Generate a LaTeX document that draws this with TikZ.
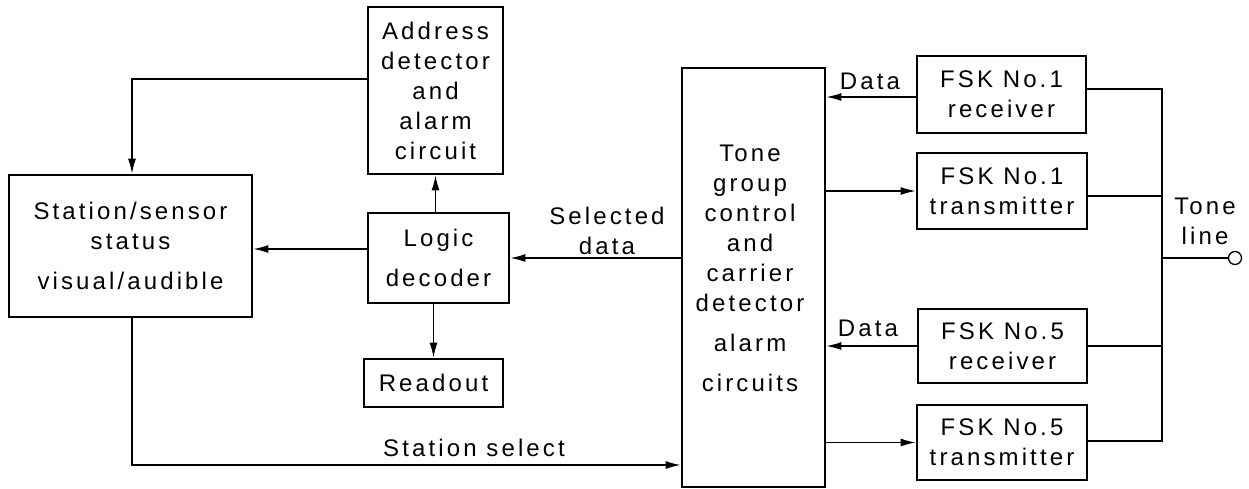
\documentclass[tikz,border=0pt]{standalone}
\usepackage{fontspec}
\setmainfont[LetterSpace=13]{Liberation Sans}
\usetikzlibrary{arrows.meta}
\begin{document}
\begin{tikzpicture}[x=1pt,y=-1pt,
  box/.style={draw,line width=2.8pt,rectangle,inner sep=0pt,align=center},
  lbl/.style={align=center,inner sep=0pt},
  conn/.style={line width=1.3pt},
  arr/.style={conn,-{Latex[length=15pt,width=8pt]}},
  every node/.style={font=\fontsize{24}{30}\selectfont}]
\useasboundingbox (0,0) rectangle (1249,488);
\node[box,minimum width=243pt,minimum height=142pt] (station) at (130.5,246) {Station/sensor\\status\\[10pt]visual/audible};
\node[box,minimum width=135pt,minimum height=167pt] (addr) at (435.5,90.5) {Address\\detector\\and\\alarm\\circuit};
\node[box,minimum width=141pt,minimum height=90pt] (logic) at (438.5,258) {Logic\\[10pt]decoder};
\node[box,minimum width=139pt,minimum height=48pt] (readout) at (433.5,383) {Readout};
\node[box,minimum width=143pt,minimum height=419pt] (tone) at (753.5,277.5) {};
\node[lbl] (tonetxt) at (750,268) {Tone\\group\\control\\and\\carrier\\detector\\[10pt]alarm\\[10pt]circuits};
\node[box,minimum width=169pt,minimum height=77pt] (rx1) at (1001.5,94.5) {FSK No.1\\receiver};
\node[box,minimum width=170pt,minimum height=76pt] (tx1) at (1002,191) {FSK No.1\\transmitter};
\node[box,minimum width=169pt,minimum height=74pt] (rx5) at (1002.5,346) {FSK No.5\\receiver};
\node[box,minimum width=170pt,minimum height=75pt] (tx5) at (1002,442.5) {FSK No.5\\transmitter};
\node[draw,circle,line width=1.3pt,inner sep=0pt,minimum size=13pt] (term) at (1235,258) {};
\coordinate (bus) at (1162,258);
% labels
\node[lbl] (data1) at (870,81) {Data};
\node[lbl] (data5) at (868,328) {Data};
\node[lbl] (seldata) at (607,231) {Selected\\data};
\node[lbl] (stsel) at (474,448) {Station select};
\node[lbl] (toneline) at (1205,221) {Tone\\line};
% connectors
\coordinate (a1) at ([yshift=11.5pt]addr.west);
\draw[arr] (a1) -| ([xshift=1.5pt]station.north);
\coordinate (l1) at ([yshift=9pt]logic.west);
\draw[arr] (l1) -- (l1 -| station.east);
\draw[arr] (logic.north -| addr.south) -- (addr.south);
\draw[arr] (logic.south -| readout.north) -- (readout.north);
\draw[arr] (tone.west |- logic.east) -- (logic.east);
\coordinate (s1) at ([yshift=-187.5pt]tone.west);
\draw[arr] ([xshift=1.5pt]station.south) |- (s1);
\coordinate (r1) at ([yshift=-2.5pt]rx1.west);
\draw[arr] (r1) -- (r1 -| tone.east);
\draw[arr] (tone.east |- tx1.west) -- (tx1.west);
\draw[arr] (rx5.west) -- (rx5.west -| tone.east);
\draw[arr] (tone.east |- tx5.west) -- (tx5.west);
% tone line bus
\coordinate (b1) at ([yshift=5.5pt]rx1.east);
\coordinate (b2) at ([yshift=-5pt]tx1.east);
\coordinate (b4) at ([yshift=1.5pt]tx5.east);
\draw[conn] (b1) -| (bus |- b4) -- (b4);
\draw[conn] (b2) -- (b2 -| bus);
\draw[conn] (rx5.east) -- (rx5.east -| bus);
\draw[conn] (bus) -- (term);
\end{tikzpicture}
\end{document}
